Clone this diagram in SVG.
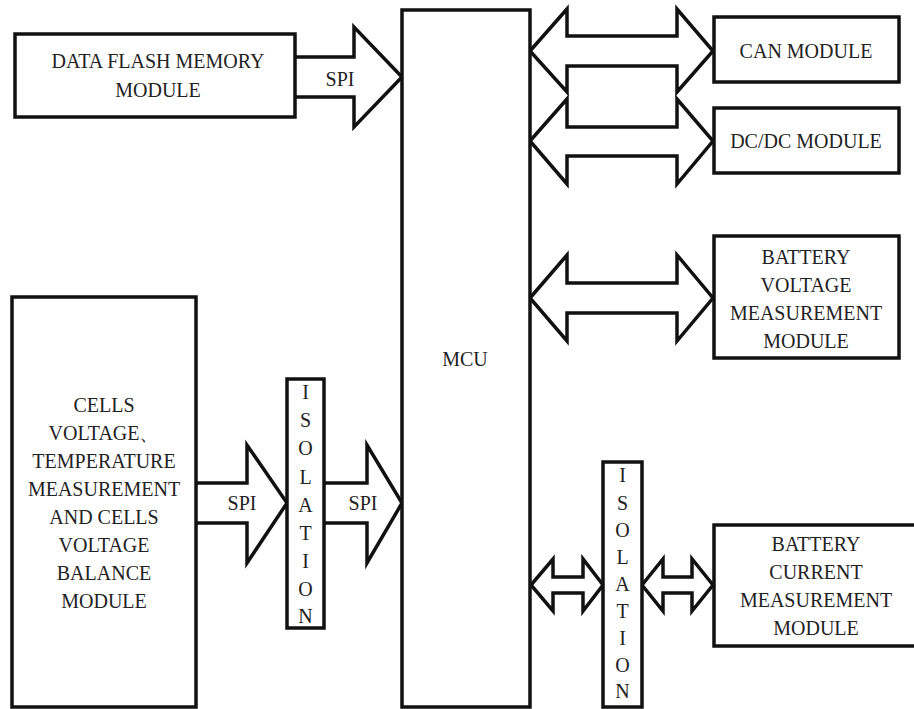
<svg xmlns="http://www.w3.org/2000/svg" width="914" height="709" viewBox="0 0 914 709" font-family="Liberation Serif, Times New Roman, serif" font-size="20">
<style>
.box{fill:#fff;stroke:#111;stroke-width:3.5}
.arr{fill:#fff;stroke:#111;stroke-width:3.5;stroke-linejoin:miter}
text{fill:#222;text-anchor:middle}
</style>
<rect width="914" height="709" fill="#fff"/>
<g id="connectors">
<path class="arr" d="M295,57 H354 V27 L402,77 L354,127 V97 H295"/>
<path class="arr" d="M530,51 L567,9 V36 H677 V9 L713,51 L677,92 V66 H567 V92 Z"/>
<path class="arr" d="M530,141 L567,99 V127 H677 V99 L713,141 L677,184 V156 H567 V184 Z"/>
<path class="arr" d="M530,298 L567,255 V283 H677 V255 L713,298 L677,341 V313 H567 V341 Z"/>
<path class="arr" d="M196,483 H247 V445 L287,503 L247,563 V523 H196"/>
<path class="arr" d="M324,483 H367 V445 L402,503 L367,563 V523 H324"/>
<path class="arr" d="M531,585 L553,559 V577 H583 V559 L603,585 L583,611 V593 H553 V611 Z"/>
<path class="arr" d="M642,585 L663,559 V577 H692 V559 L713,585 L692,611 V593 H663 V611 Z"/>
<text x="340" y="86">SPI</text>
<text x="242" y="510">SPI</text>
<text x="363" y="510">SPI</text>
</g>
<g id="mcu">
<rect class="box" x="402" y="10" width="128" height="697"/>
<text x="465" y="366">MCU</text>
</g>
<g id="flash">
<rect class="box" x="15" y="34" width="280" height="83"/>
<text x="158" y="68">DATA FLASH MEMORY</text>
<text x="158" y="97">MODULE</text>
</g>
<g id="can">
<rect class="box" x="714" y="17" width="185" height="65"/>
<text x="806" y="58">CAN MODULE</text>
</g>
<g id="dcdc">
<rect class="box" x="714" y="108" width="185" height="65"/>
<text x="806" y="148">DC/DC MODULE</text>
</g>
<g id="bvm">
<rect class="box" x="714" y="236" width="185" height="122"/>
<text x="806" y="264">BATTERY</text>
<text x="806" y="292">VOLTAGE</text>
<text x="806" y="320">MEASUREMENT</text>
<text x="806" y="348">MODULE</text>
</g>
<g id="bcm">
<rect class="box" x="714" y="525" width="204" height="121"/>
<text x="816" y="551">BATTERY</text>
<text x="816" y="579">CURRENT</text>
<text x="816" y="607">MEASUREMENT</text>
<text x="816" y="635">MODULE</text>
</g>
<g id="cells">
<rect class="box" x="12" y="297" width="184" height="410"/>
<text x="104" y="412">CELLS</text>
<text x="104" y="440">VOLTAGE、</text>
<text x="104" y="468">TEMPERATURE</text>
<text x="104" y="496">MEASUREMENT</text>
<text x="104" y="524">AND CELLS</text>
<text x="104" y="552">VOLTAGE</text>
<text x="104" y="580">BALANCE</text>
<text x="104" y="608">MODULE</text>
</g>
<g id="isolation1">
<rect class="box" x="287" y="379" width="37" height="249"/>
<text x="305.5" y="399">I</text>
<text x="305.5" y="427">S</text>
<text x="305.5" y="455">O</text>
<text x="305.5" y="484">L</text>
<text x="305.5" y="512">A</text>
<text x="305.5" y="540">T</text>
<text x="305.5" y="568">I</text>
<text x="305.5" y="596">O</text>
<text x="305.5" y="623">N</text>
</g>
<g id="isolation2">
<rect class="box" x="603" y="462" width="39" height="245"/>
<text x="622.5" y="482">I</text>
<text x="622.5" y="510">S</text>
<text x="622.5" y="537">O</text>
<text x="622.5" y="564">L</text>
<text x="622.5" y="591">A</text>
<text x="622.5" y="618">T</text>
<text x="622.5" y="645">I</text>
<text x="622.5" y="672">O</text>
<text x="622.5" y="698">N</text>
</g>
</svg>
